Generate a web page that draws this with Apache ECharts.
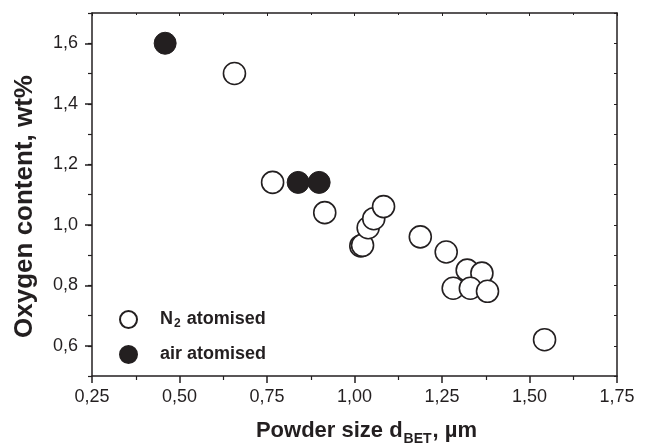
<!DOCTYPE html>
<html>
<head>
<meta charset="utf-8">
<script src="https://cdn.jsdelivr.net/npm/echarts@6/dist/echarts.min.js"></script>
<style>
html,body{margin:0;padding:0;background:#fff;}
#c{width:651px;height:444px;}
</style>
</head>
<body>
<div id="c"></div>
<script>
// Data
const n2X = [0.657, 0.766, 0.915, 1.018, 1.023, 1.039, 1.055, 1.083, 1.188, 1.262, 1.322, 1.364, 1.282, 1.331, 1.380, 1.543];
const n2Y = [1.50, 1.14, 1.04, 0.93, 0.932, 0.99, 1.02, 1.06, 0.96, 0.91, 0.85, 0.84, 0.79, 0.79, 0.78, 0.62];
const airX = [0.459, 0.839, 0.899];
const airY = [1.60, 1.14, 1.14];
const xTicks = [0.25, 0.50, 0.75, 1.00, 1.25, 1.50, 1.75];
const yMajor = [0.6, 0.8, 1.0, 1.2, 1.4, 1.6];
const yMinor = [0.5, 0.7, 0.9, 1.1, 1.3, 1.5, 1.7];

const n2Data = n2X.map((x, i) => [x, n2Y[i]]);
const airData = airX.map((x, i) => [x, airY[i]]);

const FONT = '"Liberation Sans", Arial, sans-serif';
const INK = '#231f20';
const gridRect = {left: 92, right: 34, top: 13, bottom: 68, containLabel: false, outerBoundsMode: 'none'};
const fmtComma = (v, d) => v.toFixed(d).replace('.', ',');

const chart = echarts.init(document.getElementById('c'), null, {renderer: 'canvas'});
chart.setOption({
  animation: false,
  backgroundColor: '#fff',
  textStyle: {fontFamily: FONT},
  grid: [
    Object.assign({}, gridRect),
    Object.assign({}, gridRect)
  ],
  legend: {
    orient: 'vertical',
    left: 114,
    top: 305,
    itemWidth: 17,
    itemHeight: 17,
    itemGap: 15,
    icon: 'circle',
    data: ['N2', 'air'],
    formatter: function (name) {
      return name === 'N2' ? '{b|N}{s|2}{b| atomised}' : '{b|air atomised}';
    },
    textStyle: {
      padding: [0, 0, 0, 18],
      rich: {
        b: {fontFamily: FONT, fontWeight: 'bold', fontSize: 18, color: INK},
        s: {fontFamily: FONT, fontWeight: 'bold', fontSize: 12, color: INK, padding: [9, 1, 0, 1]}
      }
    }
  },
  xAxis: [
    {
      type: 'value', gridIndex: 0, position: 'bottom',
      min: 0.25, max: 1.75, interval: 0.25,
      name: '{t|Powder size d}{s|BET}{t|, µm}',
      nameLocation: 'middle', nameGap: 40,
      nameTextStyle: {
        padding: [0, 0, 0, 24],
        rich: {
          t: {fontFamily: FONT, fontWeight: 'bold', fontSize: 22, color: INK},
          s: {fontFamily: FONT, fontWeight: 'bold', fontSize: 14, color: INK, padding: [16, 1, 0, 1]}
        }
      },
      axisLine: {show: true, lineStyle: {color: INK, width: 1.5}},
      axisTick: {show: true, inside: false, length: 7, lineStyle: {color: INK, width: 1.5}},
      minorTick: {show: true, splitNumber: 2, length: 4, lineStyle: {color: INK, width: 1.2}},
      splitLine: {show: false},
      axisLabel: {
        margin: 12, fontSize: 18, color: INK, fontFamily: FONT,
        formatter: v => fmtComma(v, 2)
      }
    },
    {
      type: 'value', gridIndex: 0, position: 'top',
      min: 0.25, max: 1.75, interval: 0.25,
      axisLine: {show: true, lineStyle: {color: INK, width: 1.5}},
      axisTick: {show: true, inside: true, length: 3, lineStyle: {color: INK, width: 1}},
      minorTick: {show: true, splitNumber: 2, length: 2, lineStyle: {color: INK, width: 1}},
      splitLine: {show: false},
      axisLabel: {show: false}
    },
    {
      type: 'value', gridIndex: 1, position: 'bottom',
      min: 0.25, max: 1.75, interval: 0.25, show: false
    }
  ],
  yAxis: [
    {
      type: 'value', gridIndex: 0, position: 'left',
      min: 0.5, max: 1.7, interval: 0.1,
      name: 'Oxygen content, wt%',
      nameLocation: 'middle', nameGap: 54, nameRotate: 90,
      nameTextStyle: {fontFamily: FONT, fontWeight: 'bold', fontSize: 26, color: INK, padding: [0, 24, 0, 0]},
      axisLine: {show: true, lineStyle: {color: INK, width: 1.5}},
      axisTick: {show: true, inside: false, length: 4, lineStyle: {color: INK, width: 1.2}},
      splitLine: {show: false},
      axisLabel: {
        margin: 14, fontSize: 18, color: INK, fontFamily: FONT,
        formatter: function (v) {
          const k = Math.round(v * 10);
          return (k % 2 === 0) ? fmtComma(v, 1) : '';
        }
      }
    },
    {
      type: 'value', gridIndex: 0, position: 'right',
      min: 0.5, max: 1.7, interval: 0.1,
      axisLine: {show: true, lineStyle: {color: INK, width: 1.5}},
      axisTick: {show: true, inside: true, length: 3, lineStyle: {color: INK, width: 1}},
      splitLine: {show: false},
      axisLabel: {show: false}
    },
    {
      type: 'value', gridIndex: 1, position: 'left',
      min: 0.5, max: 1.7, interval: 0.1,
      axisLine: {show: false},
      axisTick: {show: true, inside: false, length: 7, customValues: yMajor, lineStyle: {color: INK, width: 1.5}},
      splitLine: {show: false},
      axisLabel: {show: false}
    }
  ],
  series: [
    {
      name: 'N2', type: 'scatter', xAxisIndex: 0, yAxisIndex: 0,
      symbol: 'circle', symbolSize: 22,
      itemStyle: {color: '#ffffff', borderColor: INK, borderWidth: 1.6, opacity: 1},
      data: n2Data, z: 3
    },
    {
      name: 'air', type: 'scatter', xAxisIndex: 0, yAxisIndex: 0,
      symbol: 'circle', symbolSize: 22,
      itemStyle: {color: INK, borderColor: INK, borderWidth: 1, opacity: 1},
      data: airData, z: 4
    }
  ]
});
</script>
</body>
</html>
